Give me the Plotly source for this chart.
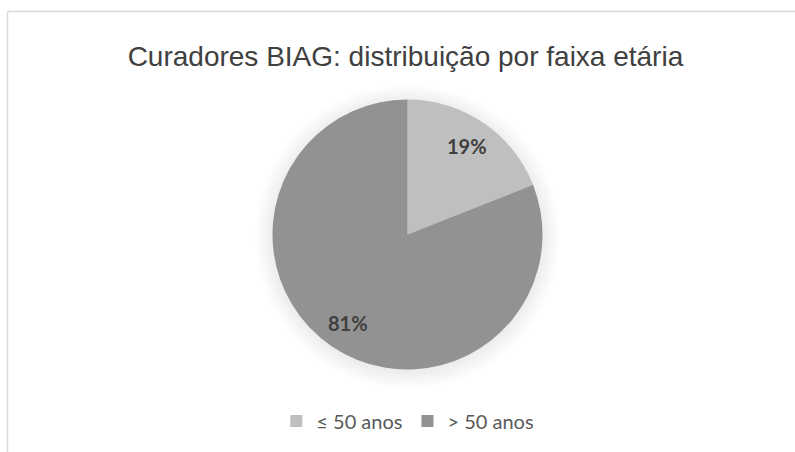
import math
import plotly.graph_objects as go

categories = ["≤ 50 anos", "> 50 anos"]
values = [19, 81]
colors = ["#BFBFBF", "#929292"]
title_text = "Curadores BIAG: distribuição por faixa etária"

W, H = 795, 452
cx, cy, r = 407.5, 234.5, 135

fig = go.Figure(go.Pie(
    labels=categories,
    values=values,
    marker=dict(colors=colors, line=dict(width=0)),
    sort=False,
    direction="clockwise",
    rotation=0,
    textinfo="none",
    hoverinfo="label+percent",
    domain=dict(x=[(cx - r) / W, (cx + r) / W], y=[1 - (cy + r) / H, 1 - (cy - r) / H]),
))

# percentage labels placed at each slice's mid-angle, derived from the values
total = sum(values)
annotations = []
start = 0.0
for v in values:
    frac = v / total
    mid = (start + frac / 2) * 2 * math.pi  # clockwise from 12 o'clock
    start += frac
    rad = 0.79 * r
    px = cx + rad * math.sin(mid)
    py = cy - rad * math.cos(mid)
    annotations.append(dict(x=px / W, y=1 - py / H, xref="paper", yref="paper",
                            xanchor="center", yanchor="middle",
                            text=f"{frac:.0%}", showarrow=False,
                            font=dict(family="Lato", size=20, color="#404040", weight="bold")))

# soft shadow around the pie (decoration)
shapes = []
for i in range(1, 19):
    rr = r + i
    shapes.append(dict(type="circle", xref="paper", yref="paper", layer="below",
                       x0=(cx - rr) / W, x1=(cx + rr) / W,
                       y0=1 - (cy + 2 + rr) / H, y1=1 - (cy + 2 - rr) / H,
                       fillcolor="rgba(0,0,0,0.0055)", line=dict(width=0)))

shapes += [
    dict(type="line", xref="paper", yref="paper", x0=7.5 / W, x1=1.01, y0=1 - 11.5 / H, y1=1 - 11.5 / H,
         line=dict(color="#D9D9D9", width=1.5)),
    dict(type="line", xref="paper", yref="paper", x0=7.5 / W, x1=7.5 / W, y0=-0.01, y1=1 - 11.5 / H,
         line=dict(color="#D9D9D9", width=1.5)),
]

fig.update_layout(
    width=W, height=H,
    margin=dict(l=0, r=0, t=0, b=0),
    paper_bgcolor="white",
    title=dict(text=title_text, x=0.51, xanchor="center", y=1 - 56 / H, yanchor="middle",
               font=dict(family="Liberation Sans", size=28, color="#404040")),
    legend=dict(orientation="h", x=0.513, xanchor="center", y=1 - 421 / H, yanchor="middle",
                font=dict(family="Lato", size=20, color="#595959"), itemwidth=30),
    shapes=shapes,
    annotations=annotations,
)

fig.write_html("out.html", config={"displayModeBar": False},
               post_script="document.body.style.margin='0';")
